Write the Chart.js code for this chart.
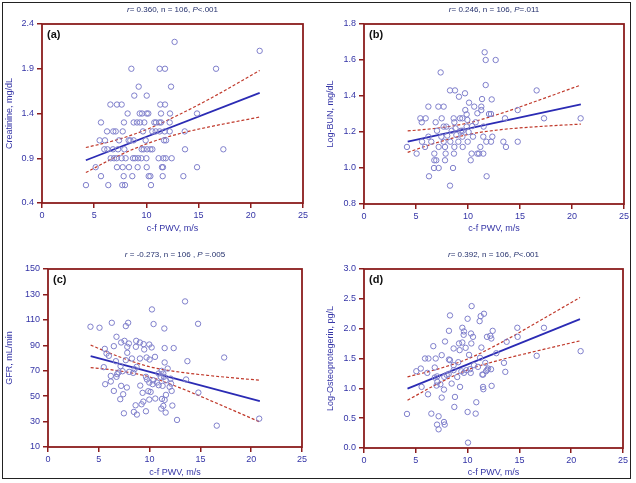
<!DOCTYPE html>
<html>
<head>
<meta charset="utf-8">
<script src="https://cdn.jsdelivr.net/npm/chart.js@4.4.1/dist/chart.umd.min.js"></script>
<style>
  html, body { margin: 0; padding: 0; background: #fff; }
  #wrap { position: relative; width: 636px; height: 483px; }
  #wrap canvas { position: absolute; }
  #frame { position: absolute; left: 2px; top: 2px; width: 629px; height: 477px;
    border: 1px solid #222; box-sizing: border-box; pointer-events: none; }
</style>
</head>
<body>
<div id="wrap">
  <canvas id="pa" width="316" height="240" style="left:0;top:0"></canvas>
  <canvas id="pb" width="316" height="240" style="left:316px;top:0"></canvas>
  <canvas id="pc" width="316" height="240" style="left:0;top:240px"></canvas>
  <canvas id="pd" width="316" height="240" style="left:316px;top:240px"></canvas>
  <div id="frame"></div>
</div>
<script>
const X_TICKS = [0, 5, 10, 15, 20, 25];
const FIT_X = [4.2, 20.85];
const BAND_X = [4.2, 7, 10, 13, 16, 20.85];

// (a) creatinine
const pwvA = [12.7, 20.85, 8.56, 11.27, 11.78, 16.67, 9.26, 12.36, 8.84, 10.03,
  6.55, 7.18, 7.63, 11.33, 11.78, 8.2, 9.36, 9.58, 10.03, 10.18, 11.4, 12.26, 14.85,
  5.65, 7.85, 8.78, 9.1, 9.39, 9.8, 10.76, 10.92, 11.24, 11.4, 12.23,
  6.23, 6.83, 7.06, 7.73, 9.67, 10.57, 10.89, 11.27, 11.75, 12.23, 13.67,
  5.52, 6.03, 7.38, 8.3, 8.46, 8.78, 9.93, 11.69, 11.88,
  5.97, 6.26, 6.8, 7.28, 7.89, 9.55, 9.74, 10.06, 10.38, 10.57, 13.7, 17.37,
  6.58, 6.9, 7.15, 7.63, 8.01, 8.72, 8.91, 9.2, 9.51, 10.0, 11.17, 11.62, 11.85, 12.42,
  5.14, 7.18, 7.73, 8.33, 9.16, 10.03, 11.49, 11.59, 14.85,
  5.65, 7.82, 8.65, 10.22, 10.38, 11.56, 13.54,
  4.21, 6.35, 7.69, 7.95, 10.44];
const creatinine = [2.2, 2.1, 1.9, 1.9, 1.9, 1.9, 1.7, 1.7, 1.6, 1.6,
  1.5, 1.5, 1.5, 1.5, 1.5, 1.4, 1.4, 1.4, 1.4, 1.4, 1.4, 1.4, 1.4,
  1.3, 1.3, 1.3, 1.3, 1.3, 1.3, 1.3, 1.3, 1.3, 1.3, 1.3,
  1.2, 1.2, 1.2, 1.2, 1.2, 1.2, 1.2, 1.2, 1.2, 1.2, 1.2,
  1.1, 1.1, 1.1, 1.1, 1.1, 1.1, 1.1, 1.1, 1.1,
  1.0, 1.0, 1.0, 1.0, 1.0, 1.0, 1.0, 1.0, 1.0, 1.0, 1.0, 1.0,
  0.9, 0.9, 0.9, 0.9, 0.9, 0.9, 0.9, 0.9, 0.9, 0.9, 0.9, 0.9, 0.9, 0.9,
  0.8, 0.8, 0.8, 0.8, 0.8, 0.8, 0.8, 0.8, 0.8,
  0.7, 0.7, 0.7, 0.7, 0.7, 0.7, 0.7,
  0.6, 0.6, 0.6, 0.6, 0.6];
const fitA = [0.878, 1.63];
const upA = [1.02, 1.10, 1.22, 1.38, 1.56, 1.88];
const loA = [0.74, 0.91, 1.06, 1.17, 1.25, 1.36];

// (b) log-BUN
const pwvB = [11.6, 11.7, 12.66, 7.37, 11.7, 16.6, 8.27, 8.75, 9.71, 9.13,
  11.35, 12.28, 10.1, 6.19, 7.15, 7.66, 10.6, 11.28, 14.78, 9.74,
  11.28, 9.87, 12.02, 12.21, 5.42, 5.93, 7.47, 8.62, 9.23, 9.46,
  13.56, 17.31, 20.83, 5.55, 6.89, 8.69, 10.74, 7.66, 7.92, 9.87,
  11.5, 9.33, 9.49, 7.02, 8.43, 6.19, 7.44, 9.46, 10.48, 11.47,
  12.34, 4.13, 5.58, 6.47, 7.66, 8.3, 9.07, 9.97, 11.76, 12.21,
  13.4, 14.78, 5.87, 7.18, 7.79, 8.69, 9.49, 11.19, 13.65, 5.06,
  6.76, 7.85, 8.65, 10.35, 10.9, 11.06, 11.47, 6.76, 6.95, 7.79,
  10.26, 6.73, 7.18, 8.56, 6.25, 11.79, 8.27, 8.8, 10.06, 10.4,
  10.9, 8.88, 8.0, 9.94];
const logBun = [1.643, 1.60, 1.60, 1.531, 1.461, 1.431, 1.431, 1.431, 1.415, 1.396,
  1.383, 1.381, 1.363, 1.341, 1.341, 1.341, 1.341, 1.341, 1.322, 1.322,
  1.322, 1.298, 1.30, 1.30, 1.276, 1.276, 1.276, 1.276, 1.276, 1.276,
  1.276, 1.276, 1.276, 1.254, 1.254, 1.254, 1.254, 1.23, 1.23, 1.23,
  1.23, 1.207, 1.207, 1.207, 1.207, 1.174, 1.174, 1.174, 1.174, 1.174,
  1.174, 1.117, 1.146, 1.146, 1.146, 1.146, 1.146, 1.146, 1.146, 1.146,
  1.146, 1.146, 1.117, 1.117, 1.117, 1.117, 1.117, 1.117, 1.117, 1.08,
  1.08, 1.08, 1.08, 1.08, 1.08, 1.08, 1.08, 1.043, 1.043, 1.043,
  1.043, 1.0, 1.0, 1.0, 0.954, 0.954, 0.902, 1.22, 1.20, 1.233,
  1.304, 1.183, 1.18, 1.267];
const fitB = [1.146, 1.354];
const upB = [1.206, 1.221, 1.25, 1.30, 1.36, 1.461];
const loB = [1.087, 1.141, 1.186, 1.212, 1.227, 1.244];

// (c) GFR
const pwvC = [4.18, 5.07, 6.28, 7.89, 7.66, 10.23, 10.39, 13.49, 14.77, 11.45,
  6.74, 6.48, 5.59, 5.76, 5.99, 7.53, 7.2, 7.96, 7.8, 8.68,
  8.65, 9.05, 9.41, 9.97, 10.2, 9.47, 7.8, 8.26, 9.05, 9.7,
  10.0, 10.53, 7.66, 6.68, 11.48, 12.37, 11.48, 13.72, 17.34, 5.49,
  7.14, 7.34, 6.94, 6.74, 6.18, 6.81, 7.99, 8.52, 8.72, 8.39,
  9.64, 9.74, 9.97, 10.3, 10.89, 11.09, 11.35, 11.78, 11.41, 11.58,
  12.07, 12.11, 11.97, 12.17, 11.28, 10.72, 10.36, 13.59, 14.8, 5.63,
  6.18, 7.2, 7.76, 9.08, 9.87, 10.1, 9.31, 7.4, 6.48, 7.11,
  9.38, 9.21, 8.62, 9.97, 10.56, 11.22, 11.48, 11.61, 11.15, 11.35,
  12.24, 11.58, 8.45, 8.75, 9.64, 7.47, 12.7, 16.61, 20.79, 11.18,
  10.89];
const gfr = [104.6, 103.8, 107.7, 107.7, 105.1, 118.2, 106.7, 124.5, 106.9, 103.2,
  96.7, 89.3, 87.2, 83.5, 81.7, 93.5, 92.2, 91.4, 88.8, 93.5,
  88.8, 92.2, 90.9, 90.6, 88.3, 86.7, 84.1, 79.6, 79.6, 80.4,
  78.8, 80.9, 78.3, 77.5, 87.8, 87.8, 76.5, 77.5, 80.4, 72.8,
  73.6, 69.6, 68.6, 65.2, 65.9, 67.3, 69.1, 71.2, 73.0, 68.3,
  65.2, 63.1, 60.7, 59.4, 58.6, 65.2, 67.8, 71.7, 65.2, 62.5,
  63.8, 59.9, 57.3, 54.1, 58.1, 60.7, 62.5, 63.1, 52.8, 59.4,
  61.5, 58.1, 56.8, 58.3, 53.9, 53.3, 52.6, 51.5, 54.1, 47.6,
  45.7, 43.6, 42.8, 47.3, 48.1, 47.8, 47.0, 51.0, 40.2, 42.3,
  42.6, 37.1, 37.6, 35.5, 38.1, 36.5, 31.3, 26.8, 32.3, 69.9,
  67.8];
const fitC = [81.4, 46.0];
const upC = [90.1, 81.0, 73.1, 68.9, 66.1, 62.5];
const loC = [72.5, 69.9, 65.1, 56.5, 46.5, 29.7];

// (d) log-osteoprotegerin
const pwvD = [4.15, 5.05, 5.48, 5.56, 5.89, 6.22, 6.18, 6.11, 6.5, 6.69,
  6.83, 6.83, 6.92, 7.08, 7.0, 7.05, 7.2, 7.2, 7.37, 7.5,
  7.5, 7.72, 7.72, 7.79, 7.75, 7.82, 7.98, 8.2, 8.3, 8.2,
  8.3, 8.46, 8.65, 8.65, 8.65, 8.72, 8.78, 9.17, 9.23, 9.27,
  9.1, 9.49, 9.49, 9.62, 9.65, 9.81, 9.88, 10.0, 10.0, 10.04,
  10.14, 10.23, 10.3, 10.33, 10.36, 10.39, 10.52, 10.62, 10.78, 10.84,
  11.0, 11.16, 11.26, 11.33, 11.2, 11.42, 11.49, 11.52, 11.58, 11.71,
  11.78, 11.87, 11.97, 12.19, 12.29, 12.42, 12.32, 12.26, 12.77, 13.51,
  13.64, 13.77, 14.8, 14.83, 16.67, 17.37, 20.91, 9.0, 9.65,
  8.17, 9.4, 11.5, 11.9, 7.06];
const logOpg = [0.571, 1.287, 1.332, 1.024, 1.50, 1.50, 0.90, 1.259, 0.576, 1.707,
  1.349, 1.181, 1.50, 1.108, 1.046, 0.392, 0.532, 0.313, 1.069, 1.556,
  0.845, 0.979, 0.436, 0.392, 1.192, 1.785, 1.226, 1.483, 1.472, 1.964,
  2.222, 1.08, 1.668, 1.388, 1.304, 0.688, 0.856, 1.752, 1.64, 1.024,
  1.438, 2.015, 1.768, 1.897, 1.953, 1.679, 1.304, 2.166, 0.604, 0.09,
  1.561, 1.32, 1.259, 1.919, 1.752, 2.378, 1.863, 1.388, 0.576, 0.767,
  1.36, 2.126, 2.21, 1.684, 1.511, 1.231, 1.024, 0.985, 2.25, 1.427,
  1.287, 1.863, 1.332, 1.88, 1.835, 1.964, 1.041, 1.32, 1.589, 1.427,
  1.276, 1.78, 2.015, 1.863, 1.545, 2.015, 1.623, 1.19, 1.26,
  1.24, 1.285, 1.23, 1.31, 1.20];
const fitD = [0.996, 2.16];
const upD = [1.192, 1.317, 1.492, 1.745, 2.036, 2.524];
const loD = [0.80, 1.067, 1.31, 1.469, 1.598, 1.796];

const yTicksA = [0.4, 0.9, 1.4, 1.9, 2.4];
const yTicksB = [0.8, 1.0, 1.2, 1.4, 1.6, 1.8];
const yTicksC = [10, 30, 50, 70, 90, 110, 130, 150];
const yTicksD = [0.0, 0.5, 1.0, 1.5, 2.0, 2.5, 3.0];

const FONT = "'Liberation Sans', Arial, sans-serif";
const AXIS_RED = "#8b1d1d";
const LABEL_BLUE = "#3434a6";
const TITLE_NAVY = "#24306c";
const POINT_BLUE = "#7f7fcb";
const FIT_BLUE = "#2b2bb4";
const BAND_RED = "#c0392b";

function pairs(xs, ys) {
  return xs.map((x, i) => ({ x: x, y: ys[i] }));
}

const panelDecor = {
  id: "panelDecor",
  afterDatasetsDraw(chart, args, opts) {
    const { ctx, chartArea: a } = chart;
    ctx.save();
    ctx.strokeStyle = AXIS_RED;
    ctx.lineWidth = 1.8;
    ctx.strokeRect(a.left, a.top, a.right - a.left, a.bottom - a.top);

    ctx.fillStyle = "#111";
    ctx.font = "bold 11px " + FONT;
    ctx.textBaseline = "middle";
    ctx.textAlign = "left";
    ctx.fillText(opts.label, a.left + 5, a.top + 11);

    // title with italic r and P
    ctx.fillStyle = TITLE_NAVY;
    const parts = opts.title;
    let total = 0;
    parts.forEach((p) => {
      ctx.font = (p.i ? "italic " : "") + "8px " + FONT;
      total += ctx.measureText(p.t).width;
    });
    let x = (a.left + a.right) / 2 - total / 2;
    parts.forEach((p) => {
      ctx.font = (p.i ? "italic " : "") + "8px " + FONT;
      ctx.fillText(p.t, x, opts.titleY);
      x += ctx.measureText(p.t).width;
    });
    ctx.restore();
  },
};

function makePanel(id, cfg) {
  const W = 316, H = 240;
  const area = cfg.area;
  return new Chart(document.getElementById(id), {
    type: "scatter",
    data: {
      datasets: [
        {
          data: pairs(cfg.xs, cfg.ys),
          pointRadius: 2.7,
          pointBorderWidth: 1,
          borderColor: POINT_BLUE,
          backgroundColor: "rgba(0,0,0,0)",
          showLine: false,
        },
        {
          data: pairs(FIT_X, cfg.fit),
          showLine: true,
          pointRadius: 0,
          borderColor: FIT_BLUE,
          borderWidth: 1.8,
        },
        {
          data: pairs(BAND_X, cfg.up),
          showLine: true,
          pointRadius: 0,
          borderColor: BAND_RED,
          borderWidth: 1.2,
          borderDash: [3, 2],
          cubicInterpolationMode: "monotone",
        },
        {
          data: pairs(BAND_X, cfg.lo),
          showLine: true,
          pointRadius: 0,
          borderColor: BAND_RED,
          borderWidth: 1.2,
          borderDash: [3, 2],
          cubicInterpolationMode: "monotone",
        },
      ],
    },
    options: {
      responsive: false,
      animation: false,
      layout: {
        padding: { left: 0, right: W - area.right, top: area.top, bottom: 0 },
      },
      plugins: {
        legend: { display: false },
        tooltip: { enabled: false },
        panelDecor: { label: cfg.label, title: cfg.title, titleY: cfg.titleY },
      },
      scales: {
        x: {
          type: "linear",
          min: 0,
          max: 25,
          afterBuildTicks: (s) => { s.ticks = X_TICKS.map((v) => ({ value: v })); },
          afterFit: (s) => { s.height = H - area.bottom; },
          border: { display: false },
          grid: { drawOnChartArea: false, drawTicks: true, tickLength: 5, color: AXIS_RED, lineWidth: 1.5 },
          ticks: { color: LABEL_BLUE, font: { family: FONT, size: 9 }, padding: 2, maxRotation: 0 },
          title: {
            display: true,
            text: "c-f PWV, m/s",
            color: LABEL_BLUE,
            font: { family: FONT, size: 9 },
            padding: { top: 0, bottom: cfg.xTitlePad },
          },
        },
        y: {
          type: "linear",
          min: cfg.yTicks[0],
          max: cfg.yTicks[cfg.yTicks.length - 1],
          afterBuildTicks: (s) => { s.ticks = cfg.yTicks.map((v) => ({ value: v })); },
          afterFit: (s) => { s.width = area.left; },
          border: { display: false },
          grid: { drawOnChartArea: false, drawTicks: true, tickLength: 5, color: AXIS_RED, lineWidth: 1.5 },
          ticks: {
            color: LABEL_BLUE,
            font: { family: FONT, size: 9 },
            padding: 3,
            callback: (v) => v.toFixed(cfg.decimals),
          },
          title: {
            display: true,
            text: cfg.yTitle,
            color: LABEL_BLUE,
            font: { family: FONT, size: 9 },
            padding: { top: cfg.yTitlePad, bottom: 0 },
          },
        },
      },
    },
    plugins: [panelDecor],
  });
}

makePanel("pa", {
  xs: pwvA, ys: creatinine, fit: fitA, up: upA, lo: loA,
  yTicks: yTicksA, decimals: 1, yTitle: "Creatinine, mg/dL",
  label: "(a)", titleY: 10, yTitlePad: 4.6, xTitlePad: 5.6,
  area: { left: 42, right: 303, top: 24, bottom: 203 },
  title: [{ t: "r", i: true }, { t: "= 0.360, n = 106, " }, { t: "P", i: true }, { t: "<.001" }],
});

makePanel("pb", {
  xs: pwvB, ys: logBun, fit: fitB, up: upB, lo: loB,
  yTicks: yTicksB, decimals: 1, yTitle: "Log-BUN, mg/dL",
  label: "(b)", titleY: 10, yTitlePad: 9.6, xTitlePad: 5.6,
  area: { left: 48, right: 308, top: 24, bottom: 204 },
  title: [{ t: "r", i: true }, { t: "= 0.246, n = 106, " }, { t: "P", i: true }, { t: "=.011" }],
});

makePanel("pc", {
  xs: pwvC, ys: gfr, fit: fitC, up: upC, lo: loC,
  yTicks: yTicksC, decimals: 0, yTitle: "GFR, mL/min",
  label: "(c)", titleY: 15, yTitlePad: 4.6, xTitlePad: 1.6,
  area: { left: 48, right: 302, top: 29, bottom: 207 },
  title: [{ t: "r", i: true }, { t: " = -0.273, n = 106 , " }, { t: "P", i: true }, { t: " =.005" }],
});

makePanel("pd", {
  xs: pwvD, ys: logOpg, fit: fitD, up: upD, lo: loD,
  yTicks: yTicksD, decimals: 1, yTitle: "Log-Osteoprotegerin, pg/L",
  label: "(d)", titleY: 15, yTitlePad: 9.6, xTitlePad: 1.6,
  area: { left: 48, right: 307, top: 29, bottom: 208 },
  title: [{ t: "r", i: true }, { t: "= 0.392, n = 106, " }, { t: "P", i: true }, { t: "<.001" }],
});
</script>
</body>
</html>
